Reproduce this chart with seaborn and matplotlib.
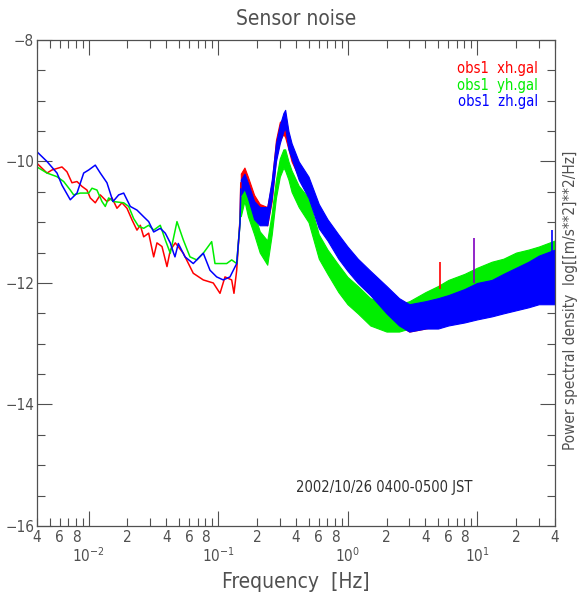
import numpy as np
import matplotlib
matplotlib.use("Agg")
import matplotlib.pyplot as plt
import matplotlib.ticker as mticker
import seaborn as sns

# ---- data -----------------------------------------------------------------
# low-frequency part: single traces (Hz, log PSD)
red_f = [0.00400, 0.00478, 0.00522, 0.00624, 0.00682, 0.00745, 0.00815, 0.00890,
         0.00973, 0.01032, 0.01128, 0.01233, 0.01388, 0.01518, 0.01659, 0.01813,
         0.01982, 0.02166, 0.02367, 0.02511, 0.02667, 0.02915, 0.03186, 0.03378,
         0.03693, 0.04036, 0.04280, 0.04678, 0.05393, 0.06440, 0.07697, 0.09193,
         0.1036, 0.1132, 0.1275, 0.1328, 0.1394, 0.1478, 0.150]
red_v = [-10.03, -10.19, -10.14, -10.09, -10.17, -10.35, -10.33, -10.41,
         -10.47, -10.60, -10.68, -10.55, -10.66, -10.60, -10.77, -10.68,
         -10.77, -10.96, -11.13, -11.05, -11.24, -11.18, -11.57, -11.34,
         -11.40, -11.73, -11.46, -11.34, -11.51, -11.84, -11.95, -12.00,
         -12.17, -11.90, -11.95, -12.17, -11.79, -10.96, -10.35]

green_f = [0.00400, 0.00478, 0.00571, 0.00643, 0.00723, 0.00768, 0.00864, 0.01003,
           0.01064, 0.01162, 0.01271, 0.01347, 0.01431, 0.01564, 0.01869, 0.02043,
           0.02232, 0.02440, 0.02667, 0.02915, 0.03186, 0.03582, 0.03915, 0.04280,
           0.04821, 0.05393, 0.06075, 0.06844, 0.07697, 0.08935, 0.09475, 0.1036,
           0.1167, 0.1275, 0.1394, 0.1478, 0.150]
green_v = [-10.09, -10.19, -10.25, -10.33, -10.47, -10.55, -10.52, -10.52,
           -10.44, -10.47, -10.66, -10.74, -10.60, -10.66, -10.68, -10.74,
           -10.94, -11.07, -11.10, -11.05, -11.13, -11.05, -11.29, -11.51,
           -10.99, -11.29, -11.57, -11.62, -11.51, -11.32, -11.68, -11.68,
           -11.68, -11.62, -11.68, -11.02, -10.75]

blue_f = [0.00400, 0.00478, 0.00571, 0.00624, 0.00723, 0.00815, 0.00918, 0.01003,
          0.01128, 0.01233, 0.01388, 0.01545, 0.01710, 0.01869, 0.02102, 0.02367,
          0.02667, 0.02915, 0.03186, 0.03582, 0.03915, 0.04280, 0.04545, 0.04652,
          0.04935, 0.05559, 0.06440, 0.07697, 0.08671, 0.09765, 0.1098, 0.1237,
          0.1394, 0.1478, 0.150]
blue_v = [-9.84, -10.00, -10.19, -10.39, -10.63, -10.52, -10.19, -10.14,
          -10.06, -10.19, -10.35, -10.66, -10.55, -10.52, -10.74, -10.80,
          -10.91, -10.99, -11.16, -11.10, -11.18, -11.34, -11.51, -11.57,
          -11.35, -11.57, -11.68, -11.51, -11.79, -11.90, -11.95, -11.90,
          -11.68, -11.02, -10.45]

# high-frequency part: noisy bands, lower / upper edge of each trace
band_f = [0.15, 0.16, 0.17, 0.19, 0.21, 0.24, 0.26, 0.28, 0.30, 0.32, 0.33, 0.35,
          0.37, 0.42, 0.5, 0.6, 0.7, 0.85, 1.0, 1.2, 1.5, 2, 2.5, 3, 4, 5, 6, 8,
          10, 13, 16, 20, 25, 30, 40]
red_lo = [-10.50, -10.40, -10.55, -10.85, -11.00, -11.05, -10.65, -9.95, -9.65,
          -9.55, -9.60, -9.80, -10.00, -10.25, -10.55, -11.00, -11.25, -11.55,
          -11.75, -11.95, -12.15, -12.50, -12.70, -12.80, -12.75, -12.70, -12.65,
          -12.60, -12.55, -12.50, -12.45, -12.40, -12.35, -12.30, -12.20]
red_hi = [-10.20, -10.10, -10.25, -10.55, -10.70, -10.75, -10.35, -9.65, -9.35,
          -9.30, -9.35, -9.55, -9.75, -10.05, -10.30, -10.75, -11.00, -11.25,
          -11.45, -11.65, -11.85, -12.10, -12.30, -12.40, -12.35, -12.25, -12.20,
          -12.10, -12.00, -11.95, -11.85, -11.75, -11.70, -11.60, -11.50]
green_lo = [-10.90, -10.65, -10.90, -11.20, -11.50, -11.70, -11.20, -10.60, -10.25,
            -10.10, -10.15, -10.30, -10.50, -10.75, -11.00, -11.60, -11.85, -12.15,
            -12.35, -12.50, -12.70, -12.80, -12.80, -12.75, -12.65, -12.60, -12.55,
            -12.45, -12.40, -12.30, -12.25, -12.20, -12.15, -12.10, -12.00]
green_hi = [-10.60, -10.35, -10.60, -10.85, -11.15, -11.30, -10.85, -10.30, -9.95,
            -9.80, -9.80, -10.00, -10.15, -10.40, -10.60, -11.20, -11.45, -11.70,
            -11.90, -12.05, -12.25, -12.35, -12.35, -12.30, -12.15, -12.05, -11.95,
            -11.85, -11.75, -11.65, -11.60, -11.50, -11.45, -11.40, -11.30]
blue_lo = [-10.55, -10.45, -10.60, -10.95, -11.05, -11.05, -10.60, -10.00, -9.70,
           -9.50, -9.45, -9.80, -9.95, -10.30, -10.60, -11.10, -11.30, -11.60,
           -11.80, -12.00, -12.20, -12.50, -12.70, -12.80, -12.75, -12.75, -12.70,
           -12.65, -12.60, -12.55, -12.50, -12.45, -12.40, -12.35, -12.35]
blue_hi = [-10.30, -10.20, -10.35, -10.65, -10.75, -10.75, -10.30, -9.70, -9.40,
           -9.20, -9.15, -9.50, -9.70, -10.00, -10.25, -10.70, -10.95, -11.20,
           -11.40, -11.60, -11.80, -12.05, -12.25, -12.35, -12.30, -12.25, -12.20,
           -12.10, -12.00, -11.95, -11.85, -11.75, -11.65, -11.55, -11.45]

# single lines sticking out of the bands
spike_f = [5.2, 9.47, 38.0]
spike_lo = [-12.1, -12.0, -11.6]
spike_hi = [-11.65, -11.26, -11.13]
spike_c = ["#ff0000", "#8000c0", "#0000ff"]

legend_txt = ["obs1  xh.gal", "obs1  yh.gal", "obs1  zh.gal"]
colors = ["#ff0000", "#00ee00", "#0000ff"]

# ---- plot -------------------------------------------------------------------
sns.set_theme(style="ticks")
plt.rcParams["font.family"] = ["DejaVu Sans"]
plt.rcParams["font.stretch"] = "condensed"
grey = "#505050"
plt.rcParams.update({"text.color": grey, "axes.edgecolor": grey,
                     "xtick.color": grey, "ytick.color": grey,
                     "axes.labelcolor": grey})

fig = plt.figure(figsize=(5.85, 5.97), dpi=100)
ax = fig.add_axes([0.0632, 0.119, 0.8855, 0.814])

lines = [(red_f, red_v), (green_f, green_v), (blue_f, blue_v)]
bands = [(red_lo, red_hi), (green_lo, green_hi), (blue_lo, blue_hi)]
for (f, v), (lo, hi), c in zip(lines, bands, colors):
    sns.lineplot(x=f, y=v, color=c, lw=1.1, estimator=None, sort=False, ax=ax)
    ax.fill_between(band_f, lo, hi, color=c, alpha=1.0, lw=0.8, edgecolor=c)

ax.vlines(spike_f, spike_lo, spike_hi, colors=spike_c, lw=1.2)

ax.set_xscale("log")
ax.set_xlim(0.004, 40)
ax.set_ylim(-16, -8)

ax.yaxis.set_major_locator(mticker.MultipleLocator(2))
ax.yaxis.set_minor_locator(mticker.MultipleLocator(0.5))
ax.xaxis.set_major_locator(mticker.LogLocator(base=10, numticks=10))
ax.xaxis.set_minor_locator(mticker.LogLocator(base=10, subs=np.arange(2, 10), numticks=10))
ax.xaxis.set_major_formatter(mticker.FuncFormatter(
    lambda x, pos: "$10^{%d}$" % int(round(np.log10(x)))))


def minor_fmt(x, pos):
    d = int(round(x / 10 ** np.floor(np.log10(x) + 1e-9)))
    return str(d) if d in (2, 4, 6, 8) else ""


ax.xaxis.set_minor_formatter(mticker.FuncFormatter(minor_fmt))

ax.tick_params(which="both", direction="in", top=True, right=True, width=0.8)
ax.tick_params(which="major", length=11)
ax.tick_params(which="minor", length=6)
ax.tick_params(axis="x", which="major", pad=15, labelsize=11)
ax.tick_params(axis="x", which="minor", pad=3, labelsize=11)
ax.tick_params(axis="y", which="major", pad=2, labelsize=11)
for s in ax.spines.values():
    s.set_linewidth(0.9)

ax.set_title("Sensor noise", fontsize=15, pad=11, color=grey)
ax.set_xlabel("Frequency  [Hz]", fontsize=15, labelpad=5)
ax.yaxis.set_label_position("right")
ax.set_ylabel("Power spectral density  log[[m/s**2]**2/Hz]", fontsize=11)
ax.yaxis.set_label_coords(1.016, 0.465)

for i, (t, c) in enumerate(zip(legend_txt, colors)):
    ax.text(0.967, 0.941 - i * 0.034, t, color=c, fontsize=10.5,
            ha="right", va="center", transform=ax.transAxes)

ax.text(0.5, 0.08, "2002/10/26 0400-0500 JST", fontsize=10.5,
        ha="left", va="center", transform=ax.transAxes, color="#303030")

fig.savefig("out.png", dpi=100)
